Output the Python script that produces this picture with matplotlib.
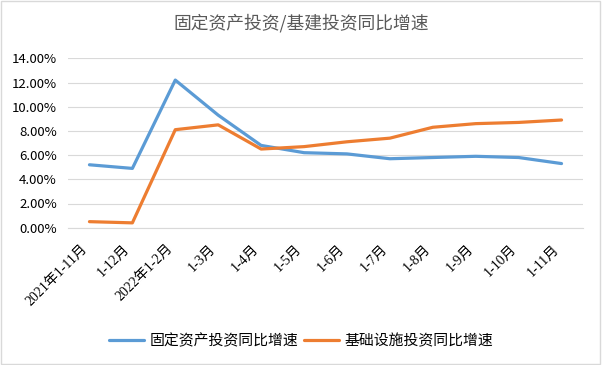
import matplotlib.pyplot as plt
from matplotlib.ticker import FuncFormatter

plt.rcParams['font.family'] = ['Noto Sans CJK SC', 'DejaVu Sans']

months = ['2021年1-11月', '1-12月', '2022年1-2月', '1-3月', '1-4月', '1-5月',
          '1-6月', '1-7月', '1-8月', '1-9月', '1-10月', '1-11月']
fixed_asset = [5.2, 4.9, 12.2, 9.3, 6.8, 6.2, 6.1, 5.7, 5.8, 5.9, 5.8, 5.3]
infrastructure = [0.5, 0.4, 8.1, 8.5, 6.5, 6.7, 7.1, 7.4, 8.3, 8.6, 8.7, 8.9]
y_ticks = [0, 2, 4, 6, 8, 10, 12, 14]

fig = plt.figure(figsize=(6.02, 3.65), dpi=100)
ax = fig.add_axes([68 / 602, 1 - 227.7 / 365, (583 - 68) / 602, (227.7 - 58.3) / 365])

x = list(range(len(months)))
ax.plot(x, fixed_asset, color='#5B9BD5', linewidth=2.3, label='固定资产投资同比增速',
        solid_capstyle='round')
ax.plot(x, infrastructure, color='#ED7D31', linewidth=2.3, label='基础设施投资同比增速',
        solid_capstyle='round')

ax.set_xlim(-0.5, len(months) - 0.5)
ax.set_ylim(0, 14)
ax.set_yticks(y_ticks)
ax.yaxis.set_major_formatter(FuncFormatter(lambda v, p: f'{v:.2f}%'))
ax.grid(axis='y', color='#D9D9D9', linewidth=0.8)
ax.set_axisbelow(True)
for s in ['top', 'right', 'left']:
    ax.spines[s].set_visible(False)
ax.spines['bottom'].set_color('#D9D9D9')
ax.tick_params(axis='both', length=0, colors='black')
ax.tick_params(axis='y', labelsize=9.5, pad=8)

# Excel-style labels: text end sits below the category centre
ax.set_xticks(x)
ax.set_xticklabels(months, rotation=45, ha='right', va='bottom', rotation_mode='anchor',
                   fontsize=10, family=['Liberation Serif', 'Noto Sans CJK SC'])
ax.tick_params(axis='x', pad=17)

fig.text(0.5, 1 - 23 / 365, '固定资产投资/基建投资同比增速', ha='center', va='center',
         fontsize=12.8, color='#595959')

fig.legend(loc='center', bbox_to_anchor=(0.5, 1 - 341 / 365), ncol=2, frameon=False,
           fontsize=10.7, handlelength=2.4, columnspacing=0.35, handletextpad=0.35)

fig.patches.append(plt.Rectangle((0.002, 0.003), 0.995, 0.994, transform=fig.transFigure,
                                 fill=False, edgecolor='#D9D9D9', linewidth=1))

fig.savefig('out.png', dpi=100)
